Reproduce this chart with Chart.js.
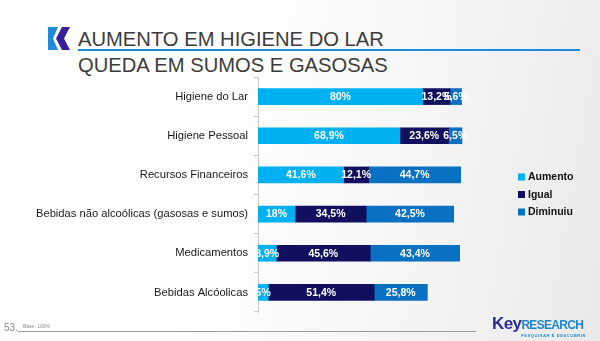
<!DOCTYPE html>
<html>
<head>
<meta charset="utf-8">
<script src="https://cdn.jsdelivr.net/npm/chart.js@4/dist/chart.umd.min.js"></script>
<style>
  html, body { margin: 0; padding: 0; }
  body {
    width: 600px; height: 341px; position: relative; overflow: hidden;
    background: linear-gradient(100deg, #ffffff 35%, #f3f3f3 75%, #e9e9e9 100%);
    font-family: "Liberation Sans", Arial, sans-serif;
  }
  #chart { position: absolute; left: 0; top: 0; }
  .title { position: absolute; left: 78px; color: #3c3c3c; font-size: 20.2px; line-height: 22px; white-space: nowrap; }
  #t1 { top: 28px; }
  #t2 { top: 54px; }
  #rule { position: absolute; left: 78px; top: 49px; width: 502px; height: 2px; background: #1f8ad6; }
  #logo { position: absolute; left: 47px; top: 27px; }
  #pageNo { position: absolute; left: 4px; top: 322px; font-size: 10px; color: #8a8a8a; }
  #base { position: absolute; left: 23px; top: 323px; font-size: 5px; color: #8a8a8a; }
  #foot { position: absolute; left: 18px; top: 331px; width: 458px; height: 1px; background: #9a9a9a; }
  #brand { position: absolute; left: 492px; top: 314px; white-space: nowrap; font-weight: bold; }
  #brand .key { color: #2b2d9b; font-size: 17px; letter-spacing: -0.6px; }
  #brand .res { color: #1f86d0; font-size: 12px; letter-spacing: -0.7px; }
  #tag { position: absolute; left: 521px; top: 333px; font-size: 4px; color: #1f86d0; font-weight: bold; letter-spacing: 0.6px; }
</style>
</head>
<body>
<svg id="logo" width="24" height="24" viewBox="0 0 24 24">
  <polygon points="1,0 11,0 6,11.5 11,23 1,23" fill="#1f8ad6"/>
  <polygon points="15,0 23,0 17,11.5 23,23 15,23 9,11.5" fill="#3a1f9a"/>
</svg>
<div class="title" id="t1">AUMENTO EM HIGIENE DO LAR</div>
<div id="rule"></div>
<div class="title" id="t2">QUEDA EM SUMOS E GASOSAS</div>
<canvas id="chart" width="600" height="341"></canvas>
<div id="pageNo">53.</div>
<div id="base">Base: 100%</div>
<div id="foot"></div>
<div id="brand"><span class="key">Key</span><span class="res">RESEARCH</span></div>
<div id="tag">PESQUISAR È DESCOBRIR</div>
<script>
// categorias e séries (%)
const categorias = ["Higiene do Lar", "Higiene Pessoal", "Recursos Financeiros",
  "Bebidas não alcoólicas (gasosas e sumos)", "Medicamentos", "Bebidas Alcóolicas"];
const seriesNomes = ["Aumento", "Igual", "Diminuiu"];
const aumento  = [80, 68.9, 41.6, 18, 8.9, 5];
const igual    = [13.2, 23.6, 12.1, 34.5, 45.6, 51.4];
const diminuiu = [5.6, 6.5, 44.7, 42.5, 43.4, 25.8];
const cores = ["#00b0f0", "#10105e", "#0a70c2"];

function fmtPct(v) {
  return String(v).replace(".", ",") + "%";
}

// rótulos brancos dentro das barras
const barLabels = {
  id: "barLabels",
  afterDatasetsDraw(chart) {
    const ctx = chart.ctx;
    ctx.save();
    ctx.font = "bold 10.5px 'Liberation Sans', Arial, sans-serif";
    ctx.fillStyle = "#ffffff";
    ctx.textAlign = "center";
    ctx.textBaseline = "middle";
    chart.data.datasets.forEach((ds, i) => {
      const meta = chart.getDatasetMeta(i);
      meta.data.forEach((bar, j) => {
        const cx = (bar.x + bar.base) / 2;
        ctx.fillText(fmtPct(ds.data[j]), cx, bar.y + 0.5);
      });
    });
    ctx.restore();
  }
};

// legenda à direita
const sideLegend = {
  id: "sideLegend",
  afterDraw(chart) {
    const ctx = chart.ctx;
    ctx.save();
    ctx.font = "bold 10.5px 'Liberation Sans', Arial, sans-serif";
    ctx.textBaseline = "middle";
    chart.data.datasets.forEach((ds, i) => {
      const y = 177 + i * 17.5;
      ctx.fillStyle = ds.backgroundColor;
      ctx.fillRect(518, y - 3.5, 7, 7);
      ctx.fillStyle = "#111111";
      ctx.fillText(ds.label, 528, y + 0.5);
    });
    ctx.restore();
  }
};

const series = [aumento, igual, diminuiu];

new Chart(document.getElementById("chart"), {
  type: "bar",
  data: {
    labels: categorias,
    datasets: series.map((d, i) => ({
      label: seriesNomes[i],
      data: d,
      backgroundColor: cores[i],
      barThickness: 16
    }))
  },
  options: {
    indexAxis: "y",
    responsive: false,
    animation: false,
    layout: { padding: { left: 0, right: 136, top: 77, bottom: 29 } },
    plugins: { legend: { display: false }, tooltip: { enabled: false } },
    scales: {
      x: { stacked: true, min: 0, max: 100, display: false },
      y: {
        stacked: true,
        afterFit(scale) { scale.width = 258; },
        border: { display: true, color: "#c8c8c8", width: 1 },
        grid: { drawOnChartArea: false, drawTicks: true, tickLength: 4, color: "#c8c8c8", offset: true },
        ticks: { color: "#1a1a1a", padding: 6, font: { family: "'Liberation Sans', Arial, sans-serif", size: 11.2 } }
      }
    }
  },
  plugins: [barLabels, sideLegend]
});
</script>
</body>
</html>
